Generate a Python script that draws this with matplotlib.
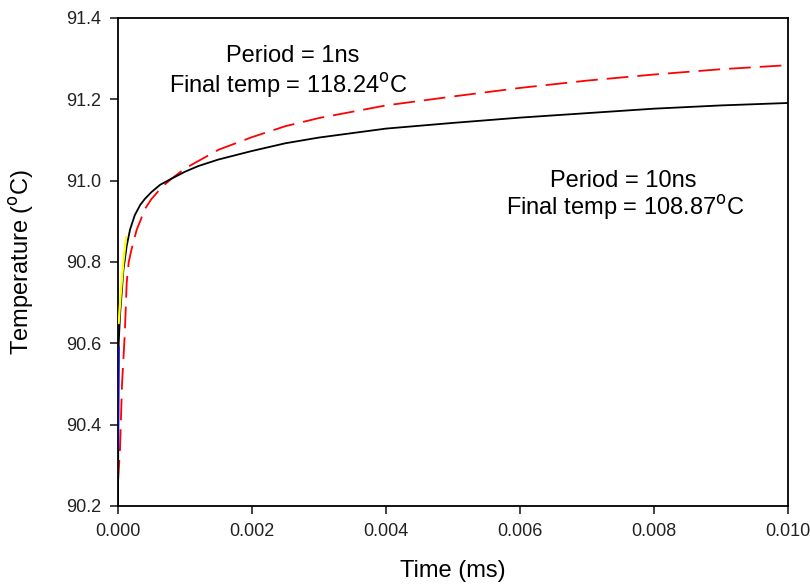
import matplotlib
matplotlib.use("Agg")
import matplotlib.pyplot as plt

plt.rcParams['font.family'] = ['Liberation Sans', 'DejaVu Sans']

# Period = 10ns (black, solid)
t_black = [0, 0.00001, 0.00003, 0.00008, 0.00013, 0.00018, 0.00025, 0.00033,
           0.0004, 0.0005, 0.00063, 0.0008, 0.001, 0.0012, 0.0015, 0.002,
           0.0025, 0.003, 0.004, 0.005, 0.006, 0.007, 0.008, 0.009, 0.010]
T_black = [90.20, 90.60, 90.67, 90.78, 90.84, 90.88, 90.915, 90.94,
           90.955, 90.972, 90.99, 91.005, 91.022, 91.036, 91.052, 91.073,
           91.092, 91.106, 91.128, 91.142, 91.155, 91.166, 91.177, 91.185, 91.191]

# Period = 1ns (red, dashed)
t_red = [0, 0.00003, 0.00006, 0.0001, 0.00013, 0.00016, 0.0002, 0.00028,
         0.00033, 0.0004, 0.0005, 0.00066, 0.0008, 0.001, 0.0015, 0.002,
         0.0025, 0.003, 0.004, 0.005, 0.006, 0.007, 0.008, 0.009, 0.010]
T_red = [90.26, 90.34, 90.50, 90.62, 90.75, 90.80, 90.83, 90.88,
         90.90, 90.93, 90.955, 90.985, 91.005, 91.03, 91.076, 91.107,
         91.134, 91.154, 91.185, 91.207, 91.228, 91.246, 91.261, 91.274, 91.284]

# short early segments
t_blue = [0.0, 0.000005, 0.00001]
T_blue = [90.34, 90.50, 90.59]
t_yellow = [0.00001, 0.00004, 0.00008, 0.00012]
T_yellow = [90.65, 90.72, 90.80, 90.86]

fig = plt.figure(figsize=(8.1, 5.84), dpi=100)
ax = fig.add_axes([0.1457, 0.1336, 0.8271, 0.8356])

ax.plot(t_black, T_black, color='black', linewidth=1.3, zorder=3)
ax.plot(t_red, T_red, color='#ff0000', linewidth=1.3, dashes=(12, 5), zorder=2)
ax.plot(t_blue, T_blue, color='#0000cc', linewidth=1.3, zorder=4)
ax.plot(t_yellow, T_yellow, color='#ffff00', linewidth=1.6, zorder=4)

ax.set_xlim(0, 0.010)
ax.set_ylim(90.2, 91.4)
ax.set_xticks([0.000, 0.002, 0.004, 0.006, 0.008, 0.010])
ax.set_xticklabels(['0.000', '0.002', '0.004', '0.006', '0.008', '0.010'])
ax.set_yticks([90.2, 90.4, 90.6, 90.8, 91.0, 91.2, 91.4])
ax.set_yticklabels(['90.2', '90.4', '90.6', '90.8', '91.0', '91.2', '91.4'])
ax.tick_params(direction='out', length=6, width=1.2, labelsize=13, pad=6,
               colors='#222222')
for s in ax.spines.values():
    s.set_linewidth(1.3)

ax.set_xlabel('Time (ms)', fontsize=17)
ax.set_ylabel('Temperature ($^{\\mathrm{o}}$C)', fontsize=17)
ax.xaxis.set_label_coords(0.5, -0.11)
ax.yaxis.set_label_coords(-0.122, 0.5)

ax.text(0.0026, 91.292, 'Period = 1ns', fontsize=17, ha='center', va='baseline')
ax.text(0.00254, 91.216, 'Final temp = 118.24$^{\\mathrm{o}}$C', fontsize=17,
        ha='center', va='baseline')
ax.text(0.00754, 90.984, 'Period = 10ns', fontsize=17, ha='center', va='baseline')
ax.text(0.00758, 90.916, 'Final temp = 108.87$^{\\mathrm{o}}$C', fontsize=17,
        ha='center', va='baseline')

fig.savefig('out.png', dpi=100)
